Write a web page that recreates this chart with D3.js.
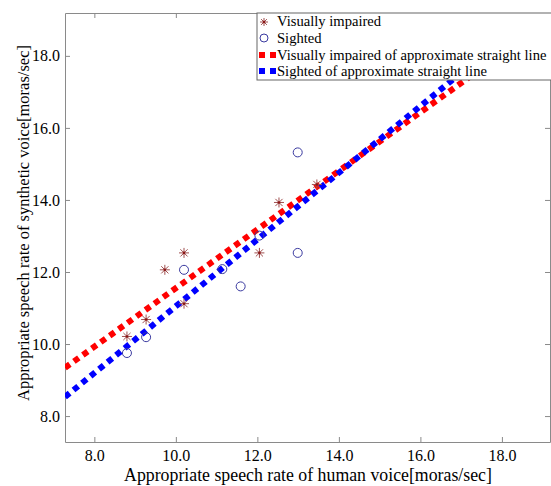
<!DOCTYPE html>
<html>
<head>
<meta charset="utf-8">
<script src="https://d3js.org/d3.v7.min.js"></script>
<style>
  body { margin: 0; background: #fff; }
  svg text { font-family: "Liberation Serif", "Times New Roman", serif; }
</style>
</head>
<body>
<svg id="chart" width="551" height="486"></svg>
<script>
// data (moras/sec)
const impairedX = [8.80, 9.27, 9.73, 10.20, 10.20, 12.05, 12.53, 13.46];
const impairedY = [10.21, 10.68, 12.06, 12.53, 11.12, 12.53, 13.93, 14.43];
const sightedX = [8.80, 9.27, 10.20, 11.14, 11.59, 12.05, 12.99, 12.99];
const sightedY = [9.75, 10.19, 12.06, 12.08, 11.60, 13.01, 12.53, 15.32];
// approximate straight lines, endpoints at the axis limits
const lineX = [7.28, 19.18];
const impairedLineY = [9.34, 19.02];
const sightedLineY = [8.53, 19.55];
const tickValues = [8, 10, 12, 14, 16, 18];
const legendLabels = ["Visually impaired", "Sighted",
  "Visually impaired of approximate straight line", "Sighted of approximate straight line"];

const svg = d3.select("#chart");
const mLeft = 65, mRight = 550, mTop = 13, mBottom = 442;
const axisColor = "#8a8a8a";
const starColor = "#a05050", circColor = "#3a3aa0";

const x = d3.scaleLinear().domain([7.28, 19.18]).range([mLeft, mRight]);
const y = d3.scaleLinear().domain([7.28, 19.19]).range([mBottom, mTop]);

svg.append("defs").append("clipPath").attr("id", "clip")
  .append("rect").attr("x", mLeft).attr("y", mTop)
  .attr("width", mRight - mLeft).attr("height", mBottom - mTop);

function styleAxis(g) {
  g.select(".domain").attr("stroke", axisColor);
  g.selectAll(".tick line").attr("stroke", axisColor);
  g.selectAll("text").attr("fill", "#000").style("font-size", "16px")
    .style("font-family", "Liberation Serif, serif");
}

svg.append("g").attr("transform", "translate(0," + mBottom + ")")
  .call(d3.axisBottom(x).tickValues(tickValues).tickFormat(d3.format(".1f"))
    .tickSize(-5).tickSizeOuter(0).tickPadding(8))
  .call(styleAxis);
svg.append("g").attr("transform", "translate(" + mLeft + ",0)")
  .call(d3.axisLeft(y).tickValues(tickValues).tickFormat(d3.format(".1f"))
    .tickSize(-5).tickSizeOuter(0).tickPadding(5))
  .call(styleAxis);
svg.append("g").attr("transform", "translate(0," + mTop + ")")
  .call(d3.axisTop(x).tickValues(tickValues).tickFormat("").tickSize(-5).tickSizeOuter(0))
  .call(styleAxis);
svg.append("g").attr("transform", "translate(" + mRight + ",0)")
  .call(d3.axisRight(y).tickValues(tickValues).tickFormat("").tickSize(-5).tickSizeOuter(0))
  .call(styleAxis);

// dotted fit lines
const plot = svg.append("g").attr("clip-path", "url(#clip)");
const fitLines = [
  { ys: impairedLineY, color: "#ff0000" },
  { ys: sightedLineY, color: "#0000ff" }
];
const lineGen = d3.line().x(d => x(d[0])).y(d => y(d[1]));
fitLines.forEach(f => {
  plot.append("path")
    .attr("d", lineGen(lineX.map((v, i) => [v, f.ys[i]])))
    .attr("fill", "none").attr("stroke", f.color)
    .attr("stroke-width", 6).attr("stroke-dasharray", "6,5");
});

// asterisk marker
function star(g, cx, cy, r) {
  const a = r * 0.72;
  g.append("path")
    .attr("d", `M${cx - r},${cy}H${cx + r}M${cx},${cy - r}V${cy + r}` +
      `M${cx - a},${cy - a}L${cx + a},${cy + a}M${cx - a},${cy + a}L${cx + a},${cy - a}`)
    .attr("stroke", starColor).attr("stroke-width", 1).attr("fill", "none");
  g.append("circle").attr("cx", cx).attr("cy", cy).attr("r", 1.3).attr("fill", "#8a1515");
}

const stars = plot.append("g");
impairedX.forEach((v, i) => star(stars, x(v), y(impairedY[i]), 5));

plot.append("g").selectAll("circle")
  .data(sightedX.map((v, i) => [v, sightedY[i]]))
  .join("circle")
  .attr("cx", d => x(d[0])).attr("cy", d => y(d[1])).attr("r", 4.5)
  .attr("fill", "none").attr("stroke", circColor).attr("stroke-width", 1);

// legend
const leg = svg.append("g");
leg.append("rect").attr("x", 257).attr("y", mTop).attr("width", 320).attr("height", 67)
  .attr("fill", "#fff").attr("stroke", "#666").attr("stroke-width", 1);
const rowY = [26, 43, 60, 76];
star(leg, 264, rowY[0] - 4, 4);
leg.append("circle").attr("cx", 264).attr("cy", rowY[1] - 5).attr("r", 4)
  .attr("fill", "none").attr("stroke", circColor);
["#ff0000", "#0000ff"].forEach((c, k) => {
  [262, 273].forEach(px => leg.append("rect")
    .attr("x", px - 3).attr("y", rowY[2 + k] - 8).attr("width", 6).attr("height", 6).attr("fill", c));
});
leg.selectAll("text.lab").data(legendLabels).join("text")
  .attr("class", "lab")
  .attr("x", 277).attr("y", (d, i) => rowY[i])
  .style("font-size", "14.6px").text(d => d);

// axis titles
svg.append("text")
  .attr("x", 308).attr("y", 481).attr("text-anchor", "middle")
  .style("font-size", "17.8px")
  .text("Appropriate speech rate of human voice[moras/sec]");
svg.append("text")
  .attr("transform", "translate(29,223) rotate(-90)")
  .attr("text-anchor", "middle")
  .style("font-size", "16.5px")
  .text("Appropriate speech rate of synthetic voice[moras/sec]");
</script>
</body>
</html>
